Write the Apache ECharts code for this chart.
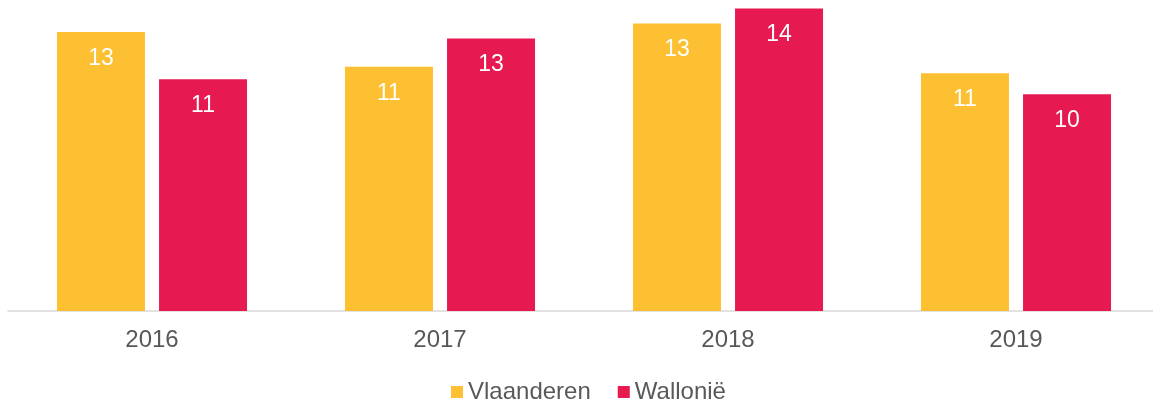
<!DOCTYPE html>
<html>
<head>
<meta charset="utf-8">
<script src="https://cdn.jsdelivr.net/npm/echarts@6/dist/echarts.min.js"></script>
<style>html,body{margin:0;padding:0;background:#fff;overflow:hidden}#c{width:1160px;height:403px}</style>
</head>
<body>
<div id="c"></div>
<script>
var categories = ['2016', '2017', '2018', '2019'];
var vlaanderen = [12.98, 11.36, 13.38, 11.06];
var wallonie = [10.78, 12.68, 14.08, 10.08];
var seriesNames = ['Vlaanderen', 'Wallonië'];

var chart = echarts.init(document.getElementById('c'));
var font = '"Liberation Sans", Arial, sans-serif';
var labelCfg = {
  show: true, position: 'insideTop', distance: 15,
  color: '#ffffff', fontSize: 23, fontFamily: font,
  formatter: function (p) { return Math.round(p.value); }
};
chart.setOption({
  animation: false,
  grid: { left: 8, right: 0, top: 0, bottom: 92, containLabel: false },
  legend: {
    data: seriesNames, left: 451, top: 380, padding: 0, itemWidth: 12, itemHeight: 12,
    itemGap: 27, icon: 'rect',
    textStyle: { color: '#595959', fontSize: 24, fontFamily: font }
  },
  xAxis: {
    type: 'category', data: categories,
    axisLine: { lineStyle: { color: '#d9d9d9', width: 1.5 } },
    axisTick: { show: false },
    axisLabel: { color: '#595959', fontSize: 24, fontFamily: font, margin: 17 }
  },
  yAxis: { type: 'value', min: 0, max: 14.47, show: false, splitLine: { show: false } },
  series: [
    { name: seriesNames[0], type: 'bar', data: vlaanderen, barWidth: 88, barGap: '16%',
      itemStyle: { color: '#FCC032' }, label: labelCfg },
    { name: seriesNames[1], type: 'bar', data: wallonie, barWidth: 88, barGap: '16%',
      itemStyle: { color: '#E61A51' }, label: labelCfg }
  ]
});
</script>
</body>
</html>
